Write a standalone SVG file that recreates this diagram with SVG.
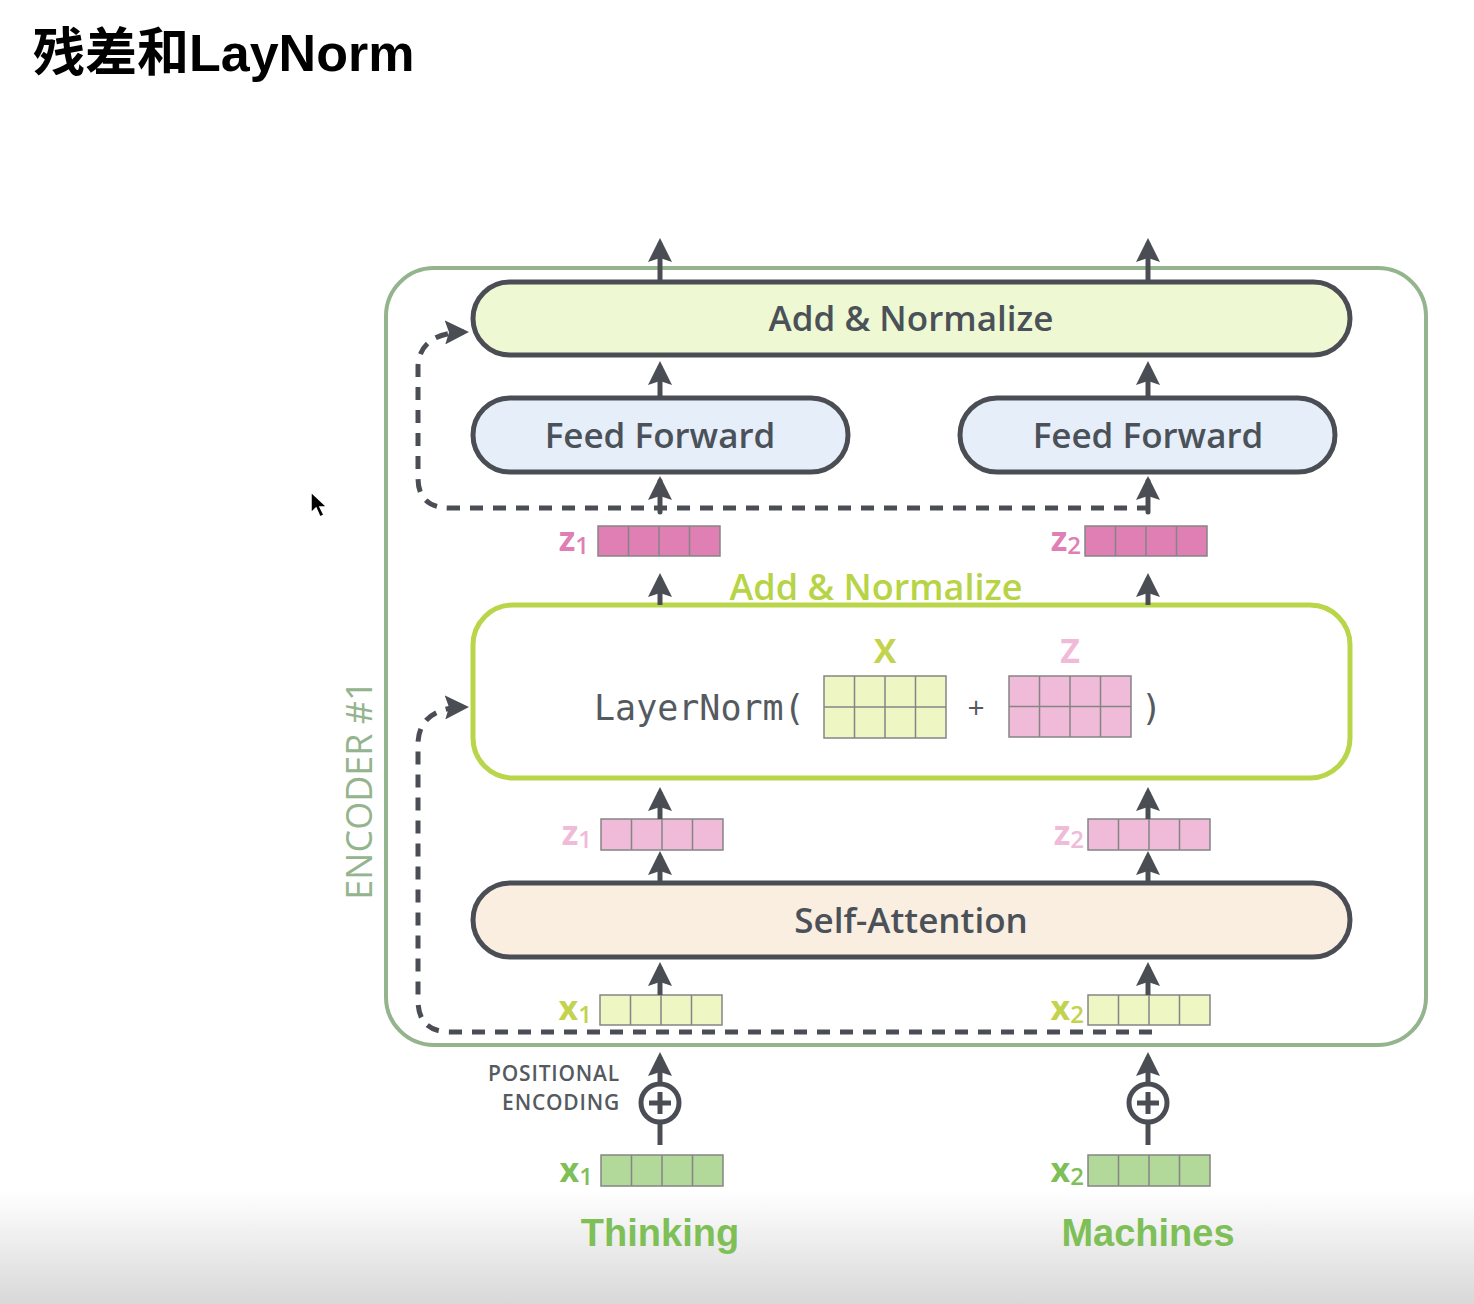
<svg xmlns="http://www.w3.org/2000/svg" width="1474" height="1304" viewBox="0 0 1474 1304">
  <defs>
    <linearGradient id="floor" x1="0" y1="0" x2="0" y2="1">
      <stop offset="0" stop-color="#ffffff"/>
      <stop offset="1" stop-color="#d8d8d8"/>
    </linearGradient>
    <marker id="head" markerUnits="userSpaceOnUse" viewBox="0 0 24 24" markerWidth="24" markerHeight="24" refX="19" refY="12" orient="auto">
      <path d="M0,0 L24,12 L0,24 L4,12 Z" fill="#4a4e54"/>
    </marker>
    <style>
      .pill { stroke: #4a4e54; stroke-width: 5; }
      .lbl { font-family: "Open Sans", "Noto Sans", sans-serif; font-weight: 600; font-size: 35px; fill: #4b5158; text-anchor: middle; }
      .arrow { stroke: #4a4e54; stroke-width: 5; fill: none; marker-end: url(#head); }
      .dash { stroke: #4a4e54; stroke-width: 5; fill: none; stroke-dasharray: 13 10; marker-end: url(#head); }
      .cell { stroke: #858585; stroke-width: 1.5; }
      .sub { font-family: "Open Sans", "Noto Sans", sans-serif; font-weight: bold; font-size: 34px; text-anchor: end; }
      .sub tspan { font-weight: 600; font-size: 24px; }
      .mono { font-family: "DejaVu Sans Mono", "Liberation Mono", monospace; font-size: 35px; fill: #555a60; }
      .pe { font-family: "Open Sans", "Noto Sans", sans-serif; font-weight: 600; font-size: 21px; letter-spacing: 0.8px; fill: #555a60; text-anchor: end; }
    </style>
  </defs>

  <rect x="0" y="0" width="1474" height="1304" fill="#ffffff"/>
  <rect x="0" y="1190" width="1474" height="114" fill="url(#floor)"/>

  <!-- heading -->
  <text x="33" y="71" font-family="'Liberation Sans', 'Noto Sans CJK SC', sans-serif" font-weight="bold" font-size="52" fill="#000000">残差和LayNorm</text>

  <!-- pointer -->
  <path d="M311,492 L311,513 L316,508 L320,517 L324,515 L320,507 L327,507 Z" fill="#000000" stroke="#ffffff" stroke-width="1.5"/>

  <!-- encoder frame -->
  <g id="encoder">
    <rect x="386" y="268" width="1040" height="777" rx="48" fill="none" stroke="#94b48e" stroke-width="4"/>
    <text transform="translate(372,790) rotate(-90)" text-anchor="middle" font-family="'Open Sans', 'Noto Sans', sans-serif" font-size="36" fill="#94b48e">ENCODER #1</text>
  </g>

  <g id="add-norm-top">
    <rect class="pill" x="473" y="282" width="877" height="73" rx="36.5" fill="#eef8d3"/>
    <text class="lbl" x="911" y="331">Add &amp; Normalize</text>
  </g>

  <g id="feed-forward-1">
    <rect class="pill" x="473" y="398" width="375" height="74" rx="37" fill="#e6eef9"/>
    <text class="lbl" x="660" y="448">Feed Forward</text>
  </g>

  <g id="feed-forward-2">
    <rect class="pill" x="960" y="398" width="375" height="74" rx="37" fill="#e6eef9"/>
    <text class="lbl" x="1148" y="448">Feed Forward</text>
  </g>

  <g id="z1-out">
    <rect class="cell" x="598" y="526" width="122" height="30" fill="#e07fb4"/>
    <path class="cell" d="M628.5,526v30M659,526v30M689.5,526v30"/>
    <text class="sub" x="589" y="551" fill="#e07fb4">z<tspan dy="3">1</tspan></text>
  </g>

  <g id="z2-out">
    <rect class="cell" x="1085" y="526" width="122" height="30" fill="#e07fb4"/>
    <path class="cell" d="M1115.5,526v30M1146,526v30M1176.5,526v30"/>
    <text class="sub" x="1081" y="551" fill="#e07fb4">z<tspan dy="3">2</tspan></text>
  </g>

  <g id="layer-norm">
    <text x="876" y="600" font-family="'Open Sans', 'Noto Sans', sans-serif" font-weight="600" font-size="36" fill="#b7d346" text-anchor="middle">Add &amp; Normalize</text>
    <rect x="473" y="605" width="877" height="173" rx="40" fill="#ffffff" stroke="#b9d54a" stroke-width="5"/>
    <text class="mono" x="594" y="720">LayerNorm(</text>
    <text x="885" y="663" font-family="'Open Sans', 'Noto Sans', sans-serif" font-weight="bold" font-size="34" fill="#c3d34e" text-anchor="middle">X</text>
    <rect class="cell" x="824" y="676" width="122" height="62" fill="#eef6c3"/>
    <path class="cell" d="M854.5,676v62M885,676v62M915.5,676v62M824,707h122"/>
    <text x="976" y="718" font-family="'Open Sans', 'Noto Sans', sans-serif" font-size="30" fill="#555a60" text-anchor="middle">+</text>
    <text x="1070" y="663" font-family="'Open Sans', 'Noto Sans', sans-serif" font-weight="bold" font-size="34" fill="#efbbd9" text-anchor="middle">Z</text>
    <rect class="cell" x="1009" y="676" width="122" height="61" fill="#efbbd9"/>
    <path class="cell" d="M1039.5,676v61M1070,676v61M1100.5,676v61M1009,706.5h122"/>
    <text class="mono" x="1141" y="720">)</text>
  </g>

  <g id="z1-attn">
    <rect class="cell" x="601" y="819" width="122" height="31" fill="#efbbd9"/>
    <path class="cell" d="M631.5,819v31M662,819v31M692.5,819v31"/>
    <text class="sub" x="592" y="845" fill="#efbbd9">z<tspan dy="3">1</tspan></text>
  </g>

  <g id="z2-attn">
    <rect class="cell" x="1088" y="819" width="122" height="31" fill="#efbbd9"/>
    <path class="cell" d="M1118.5,819v31M1149,819v31M1179.5,819v31"/>
    <text class="sub" x="1084" y="845" fill="#efbbd9">z<tspan dy="3">2</tspan></text>
  </g>

  <g id="self-attention">
    <rect class="pill" x="473" y="883" width="877" height="74" rx="37" fill="#f9eedf"/>
    <text class="lbl" x="911" y="933">Self-Attention</text>
  </g>

  <g id="x1-in">
    <rect class="cell" x="600" y="995" width="122" height="30" fill="#eef6c3"/>
    <path class="cell" d="M630.5,995v30M661,995v30M691.5,995v30"/>
    <text class="sub" x="592" y="1020" fill="#c3d34e">x<tspan dy="3">1</tspan></text>
  </g>

  <g id="x2-in">
    <rect class="cell" x="1088" y="995" width="122" height="30" fill="#eef6c3"/>
    <path class="cell" d="M1118.5,995v30M1149,995v30M1179.5,995v30"/>
    <text class="sub" x="1084" y="1020" fill="#c3d34e">x<tspan dy="3">2</tspan></text>
  </g>

  <g id="positional-encoding">
    <text class="pe" x="620" y="1081">POSITIONAL</text>
    <text class="pe" x="620" y="1110">ENCODING</text>
  </g>

  <g id="add-1">
    <circle cx="660" cy="1103" r="19" fill="#ffffff" stroke="#4a4e54" stroke-width="5"/>
    <path d="M649,1103h22M660,1092v22" stroke="#4a4e54" stroke-width="5"/>
  </g>

  <g id="add-2">
    <circle cx="1148" cy="1103" r="19" fill="#ffffff" stroke="#4a4e54" stroke-width="5"/>
    <path d="M1137,1103h22M1148,1092v22" stroke="#4a4e54" stroke-width="5"/>
  </g>

  <g id="embed-1">
    <rect class="cell" x="601" y="1155" width="122" height="31" fill="#b3d99a"/>
    <path class="cell" d="M631.5,1155v31M662,1155v31M692.5,1155v31"/>
    <text class="sub" x="593" y="1182" fill="#7ebf57">x<tspan dy="3">1</tspan></text>
    <text x="660" y="1246" font-family="'Liberation Sans', Arial, sans-serif" font-weight="bold" font-size="38" fill="#7ebf57" text-anchor="middle">Thinking</text>
  </g>

  <g id="embed-2">
    <rect class="cell" x="1088" y="1155" width="122" height="31" fill="#b3d99a"/>
    <path class="cell" d="M1118.5,1155v31M1149,1155v31M1179.5,1155v31"/>
    <text class="sub" x="1084" y="1182" fill="#7ebf57">x<tspan dy="3">2</tspan></text>
    <text x="1148" y="1246" font-family="'Liberation Sans', Arial, sans-serif" font-weight="bold" font-size="38" fill="#7ebf57" text-anchor="middle">Machines</text>
  </g>

  <!-- connectors -->
  <g id="connectors">
    <path class="dash" d="M1150,508 H450 Q418,508 418,478 V366 Q420,333 464,332"/>
    <path class="dash" d="M1152,1032 H450 Q418,1032 418,1000 V742 Q420,708 464,707"/>

    <line class="arrow" x1="660" y1="282" x2="660" y2="243"/>
    <line class="arrow" x1="1148" y1="282" x2="1148" y2="243"/>
    <line class="arrow" x1="660" y1="398" x2="660" y2="366"/>
    <line class="arrow" x1="1148" y1="398" x2="1148" y2="366"/>
    <line class="arrow" x1="660" y1="512" x2="660" y2="481" stroke-linecap="round"/>
    <line class="arrow" x1="1148" y1="512" x2="1148" y2="481" stroke-linecap="round"/>
    <line class="arrow" x1="660" y1="605" x2="660" y2="578"/>
    <line class="arrow" x1="1148" y1="605" x2="1148" y2="578"/>
    <line class="arrow" x1="660" y1="819" x2="660" y2="792"/>
    <line class="arrow" x1="1148" y1="819" x2="1148" y2="792"/>
    <line class="arrow" x1="660" y1="883" x2="660" y2="856"/>
    <line class="arrow" x1="1148" y1="883" x2="1148" y2="856"/>
    <line class="arrow" x1="660" y1="995" x2="660" y2="967"/>
    <line class="arrow" x1="1148" y1="995" x2="1148" y2="967"/>
    <line class="arrow" x1="660" y1="1084" x2="660" y2="1057"/>
    <line class="arrow" x1="1148" y1="1084" x2="1148" y2="1057"/>
    <line x1="660" y1="1122" x2="660" y2="1145" stroke="#4a4e54" stroke-width="5"/>
    <line x1="1148" y1="1122" x2="1148" y2="1145" stroke="#4a4e54" stroke-width="5"/>
  </g>
</svg>
